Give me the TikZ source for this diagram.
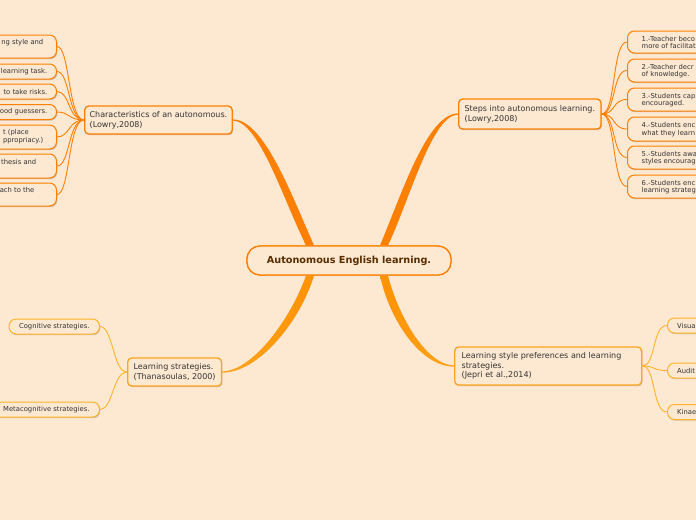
\documentclass[tikz,border=0pt]{standalone}
\usepackage{fontspec}
\setmainfont{DejaVu Sans}
\usetikzlibrary{shadows}
\definecolor{bg}{HTML}{FDE8D2}
\definecolor{orA}{HTML}{FF8000}
\definecolor{orB}{HTML}{FFA51F}
\definecolor{orBt}{HTML}{FFB526}
\definecolor{orM}{HTML}{FF9200}
\definecolor{txt}{HTML}{333333}
\definecolor{roottxt}{HTML}{5A2D00}
\begin{document}
\begin{tikzpicture}[x=1pt,y=-1pt,
  shad/.style={drop shadow={shadow xshift=0.8pt, shadow yshift=-1.2pt, opacity=0.28, fill=black!70}},
  rootbox/.style={draw=orA, line width=1.3pt, fill=bg, rounded corners=13pt, minimum width=204pt, minimum height=29pt, font=\fontsize{9.7}{11}\selectfont\bfseries, text=roottxt},
  mainbox/.style={draw=orA, line width=1.3pt, fill=bg, rounded corners=4pt, align=left, font=\fontsize{8}{9.6}\selectfont, text=txt, anchor=west, shad},
  mainboxB/.style={mainbox, draw=orB},
  leaf/.style={draw=orA, line width=1pt, fill=bg, rounded corners=7pt, shad},
  leafB/.style={leaf, draw=orBt},
  ltext/.style={font=\fontsize{6.8}{7.6}\selectfont, text=txt, inner sep=0pt, align=left},
  thin/.style={draw=orA, line width=0.9pt},
  thinB/.style={draw=orBt, line width=0.9pt}
]
\fill[bg] (0,0) rectangle (696,520);
\useasboundingbox (0,0) rectangle (696,520);
\begin{scope}
\clip (0,0) rectangle (696,520);

% main nodes
\node[rootbox] (root) at (349,260.5) {Autonomous English learning.};
\node[mainbox, minimum height=28pt, inner xsep=5pt] (char) at (84,120) {Characteristics of an autonomous.\\(Lowry,2008)};
\node[mainbox, minimum height=30pt, inner xsep=6pt] (steps) at (458,114) {Steps into autonomous learning.\\(Lowry,2008)};
\node[mainboxB, minimum height=28pt, inner xsep=6pt] (lstr) at (127,372) {Learning strategies.\\(Thanasoulas, 2000)};
\node[mainboxB, minimum height=38pt, text width=173pt, inner xsep=7pt] (lsp) at (454,366) {Learning style preferences and learning\\strategies.\\(Jepri et al.,2014)};

% thick connectors
\fill[orA] ([yshift=0.6pt]char.east) .. controls (264,119.4) and (292,196) .. ([xshift=-35pt]root.north)
  -- ([xshift=-43pt]root.north) .. controls (283,199) and (259,121) .. ([yshift=-0.6pt]char.east) -- cycle;
\fill[orA] ([yshift=0.6pt]steps.west) .. controls (427,113.4) and (401,196) .. ([xshift=31pt]root.north)
  -- ([xshift=39pt]root.north) .. controls (410,199) and (432,115) .. ([yshift=-0.6pt]steps.west) -- cycle;
\shade[left color=orB, right color=orM] ([yshift=-0.6pt]lstr.east) .. controls (258,373) and (300,322) .. ([xshift=-35pt]root.south)
  -- ([xshift=-43pt]root.south) .. controls (291,318) and (253,371) .. ([yshift=0.6pt]lstr.east) -- cycle;
\shade[left color=orM, right color=orB] ([yshift=-0.6pt]lsp.west) .. controls (422,367) and (390,322) .. ([xshift=31pt]root.south)
  -- ([xshift=39pt]root.south) .. controls (399,318) and (427,365) .. ([yshift=0.6pt]lsp.west) -- cycle;

% root drawn again on top of the connectors
\node[rootbox] at (root) {Autonomous English learning.};

% left leaves (Characteristics)
\node[leaf, minimum width=90pt, minimum height=23pt, anchor=east] (c1) at (57,46.5) {};
\node[leaf, minimum width=90pt, minimum height=15pt, anchor=east] (c2) at (57,71.5) {};
\node[leaf, minimum width=90pt, minimum height=15pt, anchor=east] (c3) at (57,91.5) {};
\node[leaf, minimum width=90pt, minimum height=15pt, anchor=east] (c4) at (57,112) {};
\node[leaf, minimum width=90pt, minimum height=24pt, anchor=east] (c5) at (57,137) {};
\node[leaf, minimum width=90pt, minimum height=24pt, anchor=east] (c6) at (57,166) {};
\node[leaf, minimum width=90pt, minimum height=23pt, anchor=east] (c7) at (57,194.5) {};
\node[ltext, anchor=east] (t1) at (43.5,43) {ng style and};
\node[ltext, anchor=east] (t2) at (47.5,71.5) {learning task.};
\node[ltext, anchor=east] (t3) at (47.5,91.5) {to take risks.};
\node[ltext, anchor=east] (t4) at (47.5,112) {ood guessers.};
\node[ltext, anchor=east] (t5) at (43.5,136.5) {t (place\\ppropriacy.)};
\node[ltext, anchor=east] (t6) at (36.5,162) {thesis and};
\node[ltext, anchor=east] (t7) at (34.5,190) {ach to the};
\foreach \c/\y in {c1/46.5,c2/71.5,c3/91.5,c4/112,c5/137,c6/166,c7/194.5}
  \draw[thin] (\c.east) .. controls (70,\y) and (68,120) .. (char.west);

% right leaves (Steps)
\node[leaf, minimum width=100pt, minimum height=22pt, anchor=west] (s1) at (627,42) {};
\node[leaf, minimum width=100pt, minimum height=23pt, anchor=west] (s2) at (627,70.5) {};
\node[leaf, minimum width=100pt, minimum height=23pt, anchor=west] (s3) at (627,99.5) {};
\node[leaf, minimum width=100pt, minimum height=24pt, anchor=west] (s4) at (627,129) {};
\node[leaf, minimum width=100pt, minimum height=23pt, anchor=west] (s5) at (627,157.5) {};
\node[leaf, minimum width=100pt, minimum height=23pt, anchor=west] (s6) at (627,186.5) {};
\node[ltext, anchor=west] (u1) at (641.5,42.5) {1.-Teacher beco\\more of facilitat};
\node[ltext, anchor=west] (u2) at (641.5,71) {2.-Teacher decr\\of knowledge.};
\node[ltext, anchor=west] (u3) at (641.5,100) {3.-Students cap\\encouraged.};
\node[ltext, anchor=west] (u4) at (641.5,129.5) {4.-Students enc\\what they learn};
\node[ltext, anchor=west] (u5) at (641.5,158) {5.-Students awa\\styles encourag};
\node[ltext, anchor=west] (u6) at (641.5,187) {6.-Students enc\\learning strateg};
\foreach \s/\y in {s1/42,s2/70.5,s3/99.5,s4/129,s5/157.5,s6/186.5}
  \draw[thin] (steps.east) .. controls (616,114) and (612,\y) .. (\s.west);

% bottom-left leaves (Learning strategies)
\node[leafB, minimum height=15pt, inner xsep=10pt, anchor=east, font=\fontsize{6.8}{8}\selectfont, text=txt] (cog) at (100,326.5) {Cognitive strategies.};
\node[leafB, minimum height=15pt, inner xsep=10pt, anchor=east, font=\fontsize{6.8}{8}\selectfont, text=txt] (meta) at (100,409.5) {Metacognitive strategies.};
\draw[thinB] (lstr.west) .. controls (113,372) and (113,326.5) .. (cog.east);
\draw[thinB] (lstr.west) .. controls (113,372) and (113,409.5) .. (meta.east);

% bottom-right leaves (Learning style preferences)
\node[leafB, minimum width=80pt, minimum height=15pt, anchor=west] (vis) at (667,325.5) {};
\node[leafB, minimum width=80pt, minimum height=15pt, anchor=west] (aud) at (667,370.5) {};
\node[leafB, minimum width=80pt, minimum height=15pt, anchor=west] (kin) at (667,412) {};
\node[ltext, anchor=west] (v1) at (677,325.5) {Visua};
\node[ltext, anchor=west] (v2) at (677,370.5) {Audit};
\node[ltext, anchor=west] (v3) at (677,412) {Kinae};
\foreach \s/\y in {vis/325.5,aud/370.5,kin/412}
  \draw[thinB] (lsp.east) .. controls (656,366) and (652,\y) .. (\s.west);
\end{scope}
\end{tikzpicture}
\end{document}
